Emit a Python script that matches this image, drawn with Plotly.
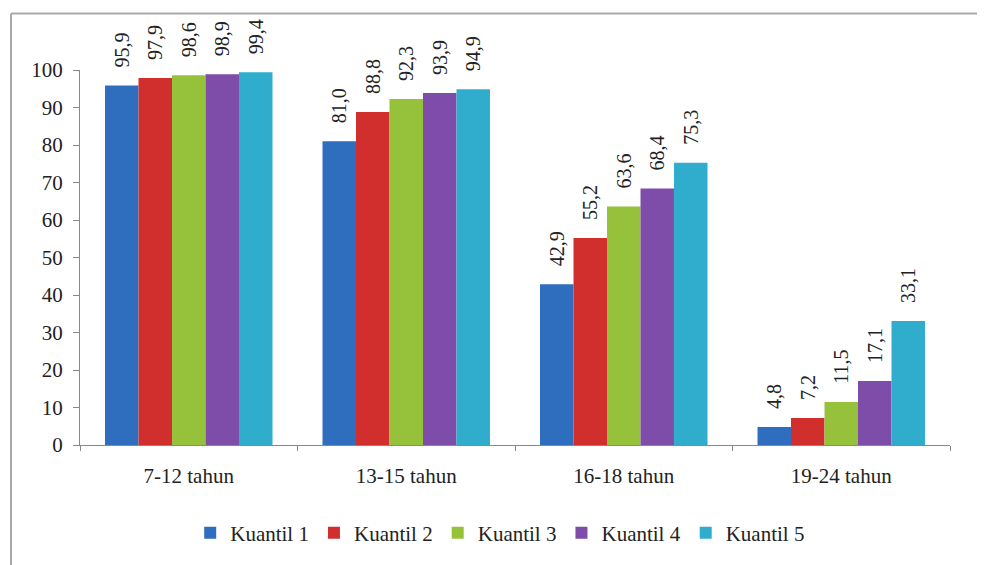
import plotly.graph_objects as go

categories = ["7-12 tahun", "13-15 tahun", "16-18 tahun", "19-24 tahun"]
series_names = ["Kuantil 1", "Kuantil 2", "Kuantil 3", "Kuantil 4", "Kuantil 5"]
kuantil1 = [95.9, 81.0, 42.9, 4.8]
kuantil2 = [97.9, 88.8, 55.2, 7.2]
kuantil3 = [98.6, 92.3, 63.6, 11.5]
kuantil4 = [98.9, 93.9, 68.4, 17.1]
kuantil5 = [99.4, 94.9, 75.3, 33.1]
y_ticks = [0, 10, 20, 30, 40, 50, 60, 70, 80, 90, 100]

colors = ["#2F6DBE", "#D12E2E", "#95C23A", "#7E4DAA", "#30ADCC"]
values = [kuantil1, kuantil2, kuantil3, kuantil4, kuantil5]

font_family = "Liberation Serif"

fig = go.Figure()
for name, vals, col in zip(series_names, values, colors):
    fig.add_trace(go.Bar(
        x=categories, y=vals, name=name,
        marker=dict(color=col, line=dict(width=0)),
        text=["\u00a0\u00a0\u00a0" + f"{v:.1f}".replace(".", ",") for v in vals],
        textposition="outside", textangle=-90, constraintext="none",
        textfont=dict(family=font_family, size=20, color="#222222"),
        cliponaxis=False,
    ))

fig.update_layout(
    barmode="group", bargap=0.23, bargroupgap=0,
    width=977, height=557,
    margin=dict(l=72, r=35, t=62, b=109),
    paper_bgcolor="white", plot_bgcolor="white",
    font=dict(family=font_family, size=20, color="#222222"),
    showlegend=True,
    legend=dict(orientation="h", x=0.483, xanchor="center", y=-0.18, yanchor="top",
                font=dict(family=font_family, size=21, color="#222222"),
                itemwidth=30, tracegroupgap=0, traceorder="normal"),
    xaxis=dict(showline=True, linecolor="#888888", linewidth=1,
               ticks="outside", ticklen=5, tickcolor="#888888",
               tickson="boundaries", ticklabelstandoff=12,
               tickfont=dict(family=font_family, size=21, color="#222222")),
    yaxis=dict(range=[0, 100], tickvals=y_ticks, showgrid=False, zeroline=False,
               showline=True, linecolor="#888888", linewidth=1,
               ticks="outside", ticklen=6, tickcolor="#888888",
               ticklabelstandoff=6,
               tickfont=dict(family=font_family, size=21, color="#222222")),
    shapes=[
        dict(type="line", xref="paper", yref="paper", x0=-0.0793, x1=1.1, y0=1.151, y1=1.151,
             line=dict(color="#AAAAAA", width=2)),
        dict(type="line", xref="paper", yref="paper", x0=-0.0793, x1=-0.0793, y0=1.151, y1=-0.4,
             line=dict(color="#AAAAAA", width=2)),
    ],
)

fig.write_html("out.html")
